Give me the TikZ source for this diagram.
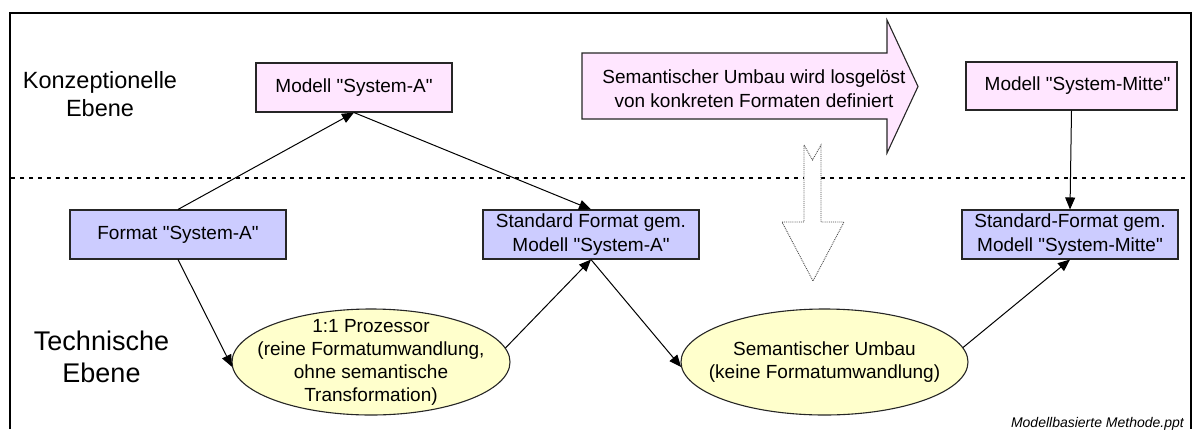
\documentclass[tikz,border=0pt]{standalone}
\usepackage{fontspec}
\setmainfont{Liberation Sans}[Ligatures=TeXOff]
\usetikzlibrary{arrows.meta,shapes.geometric}
\definecolor{modelpink}{RGB}{255,230,255}
\definecolor{formatblue}{RGB}{204,204,255}
\definecolor{procyellow}{RGB}{255,255,204}

\begin{document}
\begin{tikzpicture}[x=1pt,y=-1pt,
  boxbase/.style={draw=black!85, line width=1.1pt, inner sep=0pt, minimum height=49pt,
    align=center, font=\fontsize{19}{24}\selectfont},
  modelbox/.style={boxbase, fill=modelpink},
  formatbox/.style={boxbase, fill=formatblue, minimum width=216pt},
  procell/.style={ellipse, draw=black!85, line width=1.1pt, fill=procyellow,
    inner sep=0pt, minimum height=106pt},
  proctext/.style={align=center, font=\fontsize{19}{23}\selectfont},
  flow/.style={line width=1pt, -{Triangle[length=12pt,width=10pt]}},
  level/.style={align=center, font=\fontsize{23.5}{28}\selectfont},
]
\path[use as bounding box] (0,0) rectangle (1194,429);

% outer frame (open at the bottom)
\draw[line width=2pt] (10,429) -- (10,13) -- (1191,13) -- (1191,429);

% separator between the two levels
\draw[line width=1.4pt, dash pattern=on 4pt off 5pt] (11,178) -- (1190,178);

% level captions
\node[level] (lvlconcept) at (100,94) {Konzeptionelle\\Ebene};
\node[level, font=\fontsize{27}{32}\selectfont] (lvltech) at (101.5,357) {Technische\\Ebene};

% broad arrow: semantic rebuild defined independently of formats
\draw[draw=black!85, line width=1.1pt, fill=modelpink]
  (582,53) -- (887,53) -- (887,20) -- (918,86.5) -- (887,153) -- (887,119) -- (582,119) -- cycle;
\node[align=center, font=\fontsize{19}{24}\selectfont] (semnote) at (754,89)
  {Semantischer Umbau wird losgelöst\\von konkreten Formaten definiert};

% hollow notched arrow pointing down
\draw[draw=black!70, densely dotted, line width=0.9pt, fill=white]
  (804,145) -- (812.5,160) -- (821,145) -- (821,222) -- (844,222) -- (813,281)
  -- (782,222) -- (804,222) -- cycle;

% models
\node[modelbox, minimum width=196pt] (modA) at (354,87.5) {Modell "System-A"};
\node[modelbox, minimum width=211pt, minimum height=48pt] (modM) at (1071.5,86)
  {\hspace*{12pt}Modell "System-Mitte"};

% formats
\node[formatbox] (fmtA) at (178,234.5) {Format "System-A"};
\node[formatbox] (stdA) at (591,234.5) {Standard Format gem.\\Modell "System-A"};
\node[formatbox] (stdM) at (1070,234.5) {Standard-Format gem.\\Modell "System-Mitte"};

% processors
\node[procell, minimum width=278pt] (proc1) at (371,362) {};
\node[proctext] (proc1txt) at (proc1) {1:1 Prozessor\\(reine Formatumwandlung,\\ohne semantische\\Transformation)};
\node[procell, minimum width=287pt] (proc2) at (824.5,362) {};
\node[proctext] (proc2txt) at (proc2) {Semantischer Umbau\\(keine Formatumwandlung)};

% connectors
\draw[flow] (fmtA.north) -- (modA.south);
\draw[flow] (modA.south) -- (stdA.north);
\draw[flow] (fmtA.south) -- (proc1.182);
\draw[flow] (proc1.6) -- (stdA.south);
\draw[flow] (stdA.south) -- (proc2.182);
\draw[flow] (proc2.6) -- (stdM.south);
\draw[flow] (modM.south) -- (stdM.north);

% source file note
\node[anchor=base east, inner sep=0pt, font=\itshape\fontsize{14}{16}\selectfont] (srcnote)
  at (1184,427) {Modellbasierte Methode.ppt};
\end{tikzpicture}
\end{document}
